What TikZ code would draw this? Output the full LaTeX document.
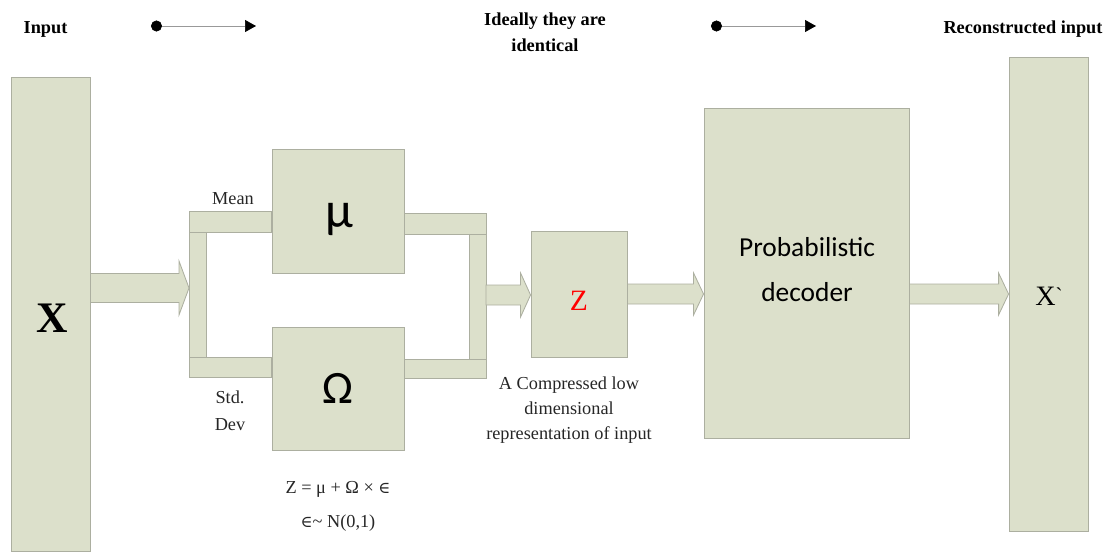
\documentclass[tikz,border=0pt]{standalone}
\usepackage{fontspec}
\setmainfont{Liberation Serif}
\setsansfont{Carlito}
\newfontfamily\symfont{DejaVu Serif}
\usepackage{tikz}
\usetikzlibrary{arrows.meta,positioning,calc}

\definecolor{boxfill}{RGB}{220,224,203}
\definecolor{boxline}{RGB}{172,175,160}

\newcommand{\epsym}{{\symfont\fontsize{11.5}{11.5}\selectfont ∈}}

\tikzset{
  block/.style={draw=boxline, fill=boxfill, inner sep=0pt, line width=0.6pt},
  pipe/.style={draw=boxline, fill=boxfill, line width=0.6pt},
  lbl/.style={font=\fontsize{13}{18}\selectfont, text=black!85, inner sep=0pt},
  toplbl/.style={font=\bfseries\fontsize{13}{18.5}\selectfont, inner sep=0pt},
  flow/.style={draw=black!40, line width=0.5pt,
    {Circle[black,length=7.8pt]}-{Triangle[black,length=7.8pt,width=8.5pt]}},
}

% block arrow: start, tip, half shaft, half head
\newcommand{\fatarrow}[4]{%
  \draw[pipe] ($(#1)+(0,-#3)$) -- ($(#2)+(-10,-#3)$) -- ($(#2)+(-10,-#4)$) -- (#2)
    -- ($(#2)+(-10,#4)$) -- ($(#2)+(-10,#3)$) -- ($(#1)+(0,#3)$) -- cycle;}

\begin{document}
\begin{tikzpicture}[x=0.025cm, y=-0.025cm]
    \useasboundingbox (0,0) rectangle (1112,552);

    % Boxes
    \node[block, minimum width=1.975cm, minimum height=11.85cm] (X) at (50.5,314) {};
    \node[block, minimum width=3.3cm, minimum height=3.1cm] (mu) at (338,211) {};
    \node[block, minimum width=3.3cm, minimum height=3.075cm] (om) at (338,388.5) {};
    \node[block, minimum width=2.4cm, minimum height=3.15cm] (Z) at (579,294) {};
    \node[block, minimum width=5.125cm, minimum height=8.25cm] (dec) at (806.5,273) {};
    \node[block, minimum width=1.975cm, minimum height=11.85cm] (Xr) at (1048.5,294) {};

    % Pipes from the input to mu and Omega
    \draw[pipe] (189,211) rectangle (mu.west |- 0,232);
    \draw[pipe] (189,232) rectangle (206,357);
    \draw[pipe] (189,357) rectangle (om.west |- 0,377);
    \coordinate (split) at (189,288);

    % Pipes from mu and Omega to Z
    \draw[pipe] (mu.east |- 0,213) rectangle (486,234);
    \draw[pipe] (469,234) rectangle (486,359);
    \draw[pipe] (om.east |- 0,359) rectangle (486,378);
    \coordinate (join) at (486,295);

    % Block arrows
    \fatarrow{X.east |- split}{split}{14.5}{27}
    \fatarrow{join}{Z.west |- join}{10}{22}
    \fatarrow{Z.east}{dec.west |- Z.east}{10}{21}
    \fatarrow{dec.east |- Xr.west}{Xr.west}{10}{21}

    % Box texts
    \node[font=\bfseries\fontsize{31}{31}\selectfont, anchor=base, inner sep=0pt] (Xt) at (52,332) {X};
    \node[font=\sffamily\fontsize{36}{36}\selectfont, anchor=base, inner sep=0pt] (mut) at (339,227) {μ};
    \node[font=\sffamily\fontsize{33}{33}\selectfont, anchor=base, inner sep=0pt] (omt) at (338,403) {Ω};
    \node[font=\fontsize{21}{21}\selectfont, text=red, anchor=base, inner sep=0pt] (Zt) at (579,310) {Z};
    \node[font=\sffamily\fontsize{19.5}{32}\selectfont, align=center, inner sep=0pt] (dect) at (807,270) {Probabilistic\\decoder};
    \node[font=\fontsize{20}{20}\selectfont, anchor=base, inner sep=0pt] (Xrt) at (1049,305) {X\raisebox{0.1em}{\fontsize{15}{15}\selectfont\textasciigrave}};

    % Labels
    \node[lbl, anchor=base] (mean) at (233,204) {Mean};
    \node[lbl, align=center, font=\fontsize{13}{19}\selectfont] (std) at (230,411) {Std.\\Dev};
    \node[lbl, anchor=base] (f1) at (338,493) {Z = μ + Ω × \epsym};
    \node[lbl, anchor=base] (f2) at (338,527) {\epsym\textasciitilde{} N(0,1)};
    \node[lbl, align=center, font=\fontsize{13}{17.8}\selectfont] (ann) at (569,410) {A Compressed low\\dimensional\\representation of input};

    % Top row
    \node[toplbl, anchor=base] (inp) at (45.5,33) {Input};
    \node[toplbl, align=center] (ideal) at (545,32) {Ideally they are\\identical};
    \node[toplbl, anchor=base] (rec) at (1023,33) {Reconstructed input};
    \coordinate (a1) at (151,26);
    \coordinate (b1) at (256,26);
    \coordinate (a2) at (711,26);
    \coordinate (b2) at (816,26);
    \draw[flow] (a1) -- (b1);
    \draw[flow] (a2) -- (b2);
\end{tikzpicture}
\end{document}
